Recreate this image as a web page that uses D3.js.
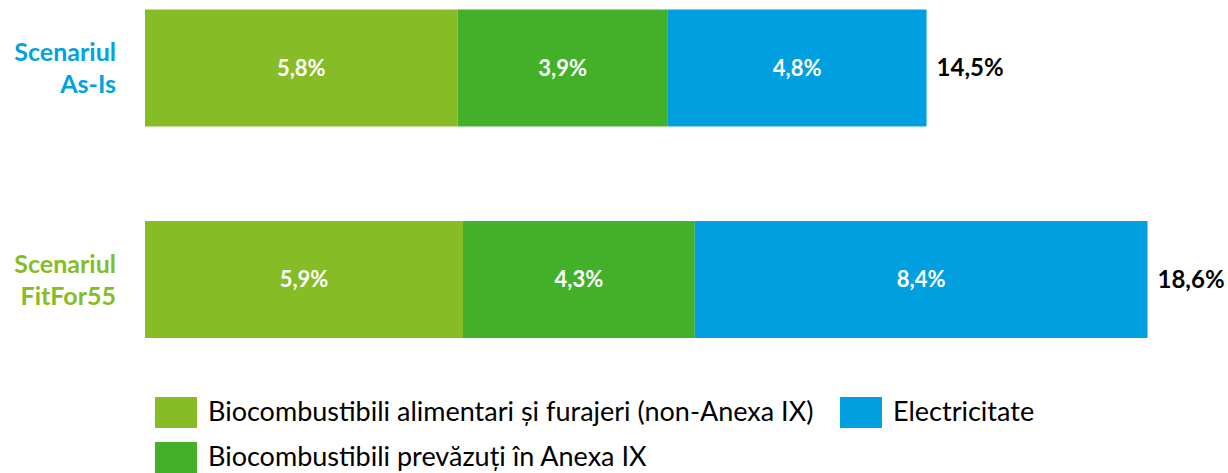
<!DOCTYPE html>
<html>
<head>
<meta charset="utf-8">
<script src="https://cdn.jsdelivr.net/npm/d3@7"></script>
<style>
  html, body { margin: 0; padding: 0; background: #fff; }
  svg { display: block; font-family: Lato, "Open Sans", sans-serif; }
</style>
</head>
<body>
<svg id="chart" width="1228" height="473"></svg>
<script>
// Scenarios and their share per renewable source (%)
const scenarios = ["Scenariul As-Is", "Scenariul FitFor55"];
const scenarioLines = [["Scenariul", "As-Is"], ["Scenariul", "FitFor55"]];
const seriesNames = [
  "Biocombustibili alimentari și furajeri (non-Anexa IX)",
  "Biocombustibili prevăzuți în Anexa IX",
  "Electricitate"
];
const foodFeed = [5.8, 5.9];
const annexIX = [3.9, 4.3];
const electricity = [4.8, 8.4];
const totals = [14.5, 18.6];

const seriesColors = ["#86bc25", "#43b02a", "#009fdf"];
const scenarioColors = ["#00a3e0", "#86bc25"];

const fmt = v => d3.format(".1f")(v).replace(".", ",") + "%";

const svg = d3.select("#chart");

const rows = scenarios.map((s, i) => ({
  scenario: s,
  [seriesNames[0]]: foodFeed[i],
  [seriesNames[1]]: annexIX[i],
  [seriesNames[2]]: electricity[i]
}));

const stack = d3.stack().keys(seriesNames);
const layers = stack(rows);

const x = d3.scaleLinear().domain([0, 20]).range([145, 145 + 20 * 53.9]);
const y = d3.scaleBand().domain(scenarios).range([9.5, 338]).paddingInner(0.447).paddingOuter(0);

// Stacked bar segments
const layerG = svg.selectAll("g.layer").data(layers).join("g")
  .attr("class", "layer")
  .attr("fill", (d, i) => seriesColors[i]);

layerG.selectAll("rect").data(d => d).join("rect")
  .attr("x", d => x(d[0]))
  .attr("y", d => y(d.data.scenario))
  .attr("width", d => x(d[1]) - x(d[0]))
  .attr("height", y.bandwidth());

// Segment value labels
layerG.selectAll("text").data(d => d).join("text")
  .attr("x", d => (x(d[0]) + x(d[1])) / 2)
  .attr("y", d => y(d.data.scenario) + y.bandwidth() / 2)
  .attr("dy", "0.35em")
  .attr("text-anchor", "middle")
  .attr("fill", "#fff")
  .attr("font-weight", "bold")
  .attr("font-size", 22)
  .text(d => fmt(d[1] - d[0]));

// Totals to the right of each bar
svg.selectAll("text.total").data(scenarios).join("text")
  .attr("class", "total")
  .attr("x", (s, i) => x(totals[i]) + 10)
  .attr("y", s => y(s) + y.bandwidth() / 2)
  .attr("dy", "0.35em")
  .attr("fill", "#000")
  .attr("font-weight", "bold")
  .attr("font-size", 24)
  .text((s, i) => fmt(totals[i]));

// Scenario labels on the left
const catG = svg.selectAll("text.cat").data(scenarios).join("text")
  .attr("class", "cat")
  .attr("text-anchor", "end")
  .attr("font-weight", "bold")
  .attr("font-size", 25)
  .attr("fill", (s, i) => scenarioColors[i]);

catG.selectAll("tspan").data((s, i) => scenarioLines[i].map((t, j) => ({ t, j, s })))
  .join("tspan")
  .attr("x", 116)
  .attr("y", d => y(d.s) + y.bandwidth() / 2 + (d.j === 0 ? -7 : 25))
  .text(d => d.t);

// Legend
const legendItems = [
  { name: seriesNames[0], color: seriesColors[0], x: 155, y: 397 },
  { name: seriesNames[2], color: seriesColors[2], x: 840, y: 397 },
  { name: seriesNames[1], color: seriesColors[1], x: 155, y: 442 }
];
const lg = svg.selectAll("g.legend").data(legendItems).join("g")
  .attr("class", "legend")
  .attr("transform", d => `translate(${d.x},${d.y})`);
lg.append("rect").attr("width", 42).attr("height", 31).attr("fill", d => d.color);
lg.append("text")
  .attr("x", 53)
  .attr("y", 14)
  .attr("dy", "0.36em")
  .attr("font-size", 27)
  .attr("fill", "#000")
  .text(d => d.name);
</script>
</body>
</html>
